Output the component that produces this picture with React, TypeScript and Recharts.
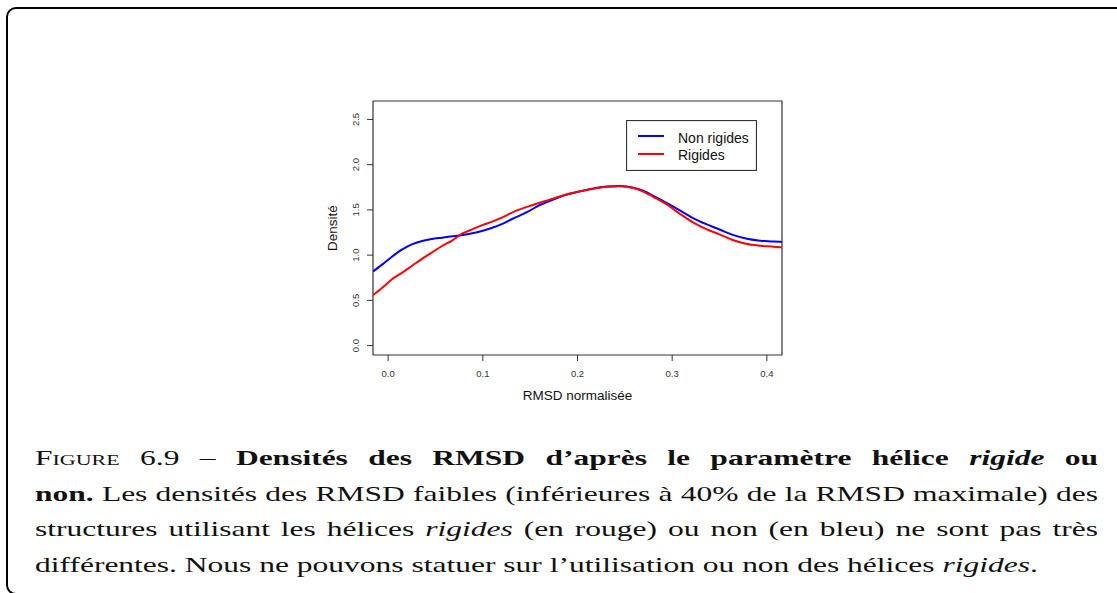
import { LineChart, Line, XAxis, YAxis, ReferenceArea, Legend, Label } from "recharts";

// Density estimates (x = normalised RMSD)
const rmsd = [
  -0.016, -0.006, 0.004, 0.015, 0.025, 0.036, 0.046, 0.057, 0.068, 0.078, 0.089, 0.099,
  0.11, 0.12, 0.132, 0.146, 0.16, 0.175, 0.189, 0.203, 0.217, 0.231, 0.245, 0.259, 0.27,
  0.28, 0.294, 0.308, 0.322, 0.336, 0.35, 0.364, 0.379, 0.393, 0.407, 0.416,
];
const nonRigides = [
  0.82, 0.898, 0.983, 1.064, 1.119, 1.156, 1.178, 1.193, 1.208, 1.222, 1.241, 1.266,
  1.302, 1.342, 1.405, 1.472, 1.552, 1.618, 1.67, 1.705, 1.738, 1.76, 1.764, 1.746, 1.71,
  1.655, 1.577, 1.495, 1.41, 1.342, 1.283, 1.224, 1.182, 1.16, 1.152, 1.145,
];
const rigides = [
  0.556, 0.641, 0.733, 0.807, 0.88, 0.961, 1.028, 1.101, 1.164, 1.237, 1.285, 1.329,
  1.37, 1.414, 1.476, 1.531, 1.58, 1.627, 1.674, 1.706, 1.735, 1.757, 1.762, 1.742, 1.7,
  1.645, 1.563, 1.458, 1.362, 1.288, 1.23, 1.167, 1.122, 1.104, 1.094, 1.086,
];
const xTicks = [0, 0.1, 0.2, 0.3, 0.4];
const yTicks = [0, 0.5, 1, 1.5, 2, 2.5];
const xDomain: [number, number] = [-0.016, 0.416];
const yDomain: [number, number] = [-0.104, 2.704];

const data = rmsd.map((x, i) => ({ x, nonRigides: nonRigides[i], rigides: rigides[i] }));

const SANS = "'Liberation Sans', Arial, sans-serif";
const CAPTION_SCALE = 1.465;

function XTick({ x, y, payload }: any) {
  return (
    <text x={x} y={y + 12} textAnchor="middle" dominantBaseline="central" fontSize={9.5} fill="#333" fontFamily={SANS}>
      {Number(payload.value).toFixed(1)}
    </text>
  );
}

function YTick({ x, y, payload }: any) {
  const tx = x - 11;
  return (
    <text
      x={tx}
      y={y}
      transform={`rotate(-90 ${tx} ${y})`}
      textAnchor="middle"
      dominantBaseline="central"
      fontSize={9.5}
      fill="#333"
      fontFamily={SANS}
    >
      {Number(payload.value).toFixed(1)}
    </text>
  );
}

function LegendBox() {
  return (
    <svg width={131} height={51} style={{ display: "block" }}>
      <rect x={0.5} y={0.5} width={130} height={50} fill="#fff" stroke="#333" strokeWidth={1.2} />
      <line x1={12} x2={38} y1={16} y2={16} stroke="#0000ff" strokeWidth={2} />
      <line x1={12} x2={38} y1={34} y2={34} stroke="#ff0000" strokeWidth={2} />
      <text x={52} y={17.5} dominantBaseline="central" fontSize={14} fontFamily={SANS} fill="#111">
        Non rigides
      </text>
      <text x={52} y={35} dominantBaseline="central" fontSize={14} fontFamily={SANS} fill="#111">
        Rigides
      </text>
    </svg>
  );
}

const justified = { textAlign: "justify" as const, textAlignLast: "justify" as const };

export default function App() {
  return (
    <div
      style={{
        position: "absolute",
        left: 0,
        top: 0,
        width: 1117,
        height: 593,
        overflow: "hidden",
        background: "#fff",
      }}
    >
      <div
        style={{
          position: "absolute",
          left: 6,
          top: 7,
          width: 1200,
          height: 588,
          border: "2.5px solid #000",
          borderRadius: 10,
          boxSizing: "border-box",
        }}
      />
      <div style={{ position: "absolute", left: 300, top: 90 }}>
        <LineChart width={500} height={330} data={data} margin={{ top: 11, right: 18, bottom: 0, left: 0 }}>
          <XAxis
            dataKey="x"
            type="number"
            domain={xDomain}
            ticks={xTicks}
            allowDataOverflow
            axisLine={false}
            tickLine={{ stroke: "#333" }}
            tickSize={6}
            tickMargin={0}
            tick={<XTick />}
            height={65}
          >
            <Label
              content={({ viewBox }: any) => (
                <text
                  x={viewBox.x + viewBox.width / 2}
                  y={viewBox.y + 40}
                  textAnchor="middle"
                  dominantBaseline="central"
                  fontSize={13.5}
                  fontFamily={SANS}
                  fill="#111"
                >
                  RMSD normalisée
                </text>
              )}
            />
          </XAxis>
          <YAxis
            type="number"
            domain={yDomain}
            ticks={yTicks}
            allowDataOverflow
            axisLine={false}
            tickLine={{ stroke: "#333" }}
            tickSize={6}
            tickMargin={0}
            tick={<YTick />}
            width={73}
          >
            <Label
              content={({ viewBox }: any) => {
                const cx = 32;
                const cy = viewBox.y + viewBox.height / 2;
                return (
                  <text
                    x={cx}
                    y={cy}
                    transform={`rotate(-90 ${cx} ${cy})`}
                    textAnchor="middle"
                    dominantBaseline="central"
                    fontSize={13.5}
                    fontFamily={SANS}
                    fill="#111"
                  >
                    Densité
                  </text>
                );
              }}
            />
          </YAxis>
          <ReferenceArea
            x1={xDomain[0]}
            x2={xDomain[1]}
            y1={yDomain[0]}
            y2={yDomain[1]}
            fill="none"
            fillOpacity={0}
            stroke="#333"
            strokeWidth={1.2}
          />
          <Line
            type="monotone"
            dataKey="nonRigides"
            stroke="#0000ff"
            strokeWidth={2}
            dot={false}
            isAnimationActive={false}
          />
          <Line
            type="monotone"
            dataKey="rigides"
            stroke="#ff0000"
            strokeWidth={2}
            dot={false}
            isAnimationActive={false}
          />
          <Legend
            layout="vertical"
            align="center"
            verticalAlign="middle"
            wrapperStyle={{ left: 326, top: 30, width: 131, height: 51 }}
            content={() => <LegendBox />}
          />
        </LineChart>
      </div>
      <div
        style={{
          position: "absolute",
          left: 35,
          top: 441,
          width: 1063 / CAPTION_SCALE,
          transform: `scaleX(${CAPTION_SCALE})`,
          transformOrigin: "left top",
          fontFamily: "'Liberation Serif', 'Times New Roman', serif",
          fontSize: 21.5,
          lineHeight: "35.7px",
          color: "#111",
          whiteSpace: "nowrap",
        }}
      >
        <div style={justified}>
          <span style={{ fontVariant: "small-caps" }}>Figure</span> 6.9 –{" "}
          <b>
            Densités des RMSD d’après le paramètre hélice <i>rigide</i> ou
          </b>
        </div>
        <div style={justified}>
          <b>non.</b> Les densités des RMSD faibles (inférieures à 40% de la RMSD maximale) des
        </div>
        <div style={justified}>
          structures utilisant les hélices <i>rigides</i> (en rouge) ou non (en bleu) ne sont pas très
        </div>
        <div style={{ textAlign: "left" }}>
          différentes. Nous ne pouvons statuer sur l’utilisation ou non des hélices <i>rigides</i>.
        </div>
      </div>
    </div>
  );
}
